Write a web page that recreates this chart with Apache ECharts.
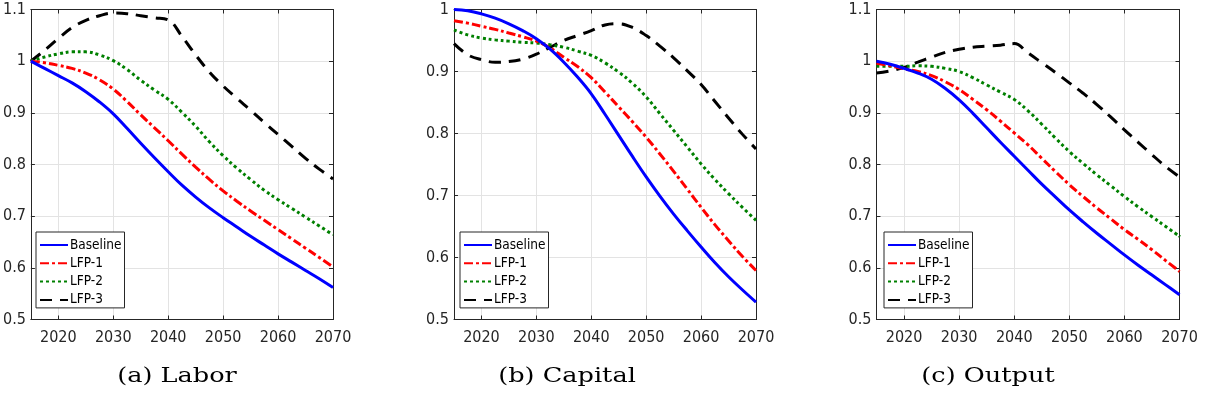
<!DOCTYPE html>
<html>
<head>
<meta charset="utf-8">
<script src="https://cdn.jsdelivr.net/npm/echarts@6/dist/echarts.min.js"></script>
<style>
  html, body { margin: 0; padding: 0; background: #ffffff; }
  #chart { width: 1206px; height: 403px; }
</style>
</head>
<body>
<div id="chart"></div>
<script>
// Projection years (2.5-year steps) and tick labels
const years = [2015, 2017.5, 2020, 2022.5, 2025, 2027.5, 2030, 2032.5, 2035, 2037.5, 2040,
               2042.5, 2045, 2047.5, 2050, 2052.5, 2055, 2057.5, 2060, 2062.5, 2065, 2067.5, 2070];
const xTicks = [2020, 2030, 2040, 2050, 2060, 2070];
const seriesNames = ['Baseline', 'LFP-1', 'LFP-2', 'LFP-3'];
const panelTitles = ['(a) Labor', '(b) Capital', '(c) Output'];
const panelYMax = [1.1, 1.0, 1.1];

// (a) Labor, relative to 2015
const laborBaseline = [1.000, 0.986, 0.972, 0.958, 0.941, 0.921, 0.898, 0.870, 0.841, 0.813, 0.786,
                       0.760, 0.737, 0.716, 0.697, 0.679, 0.661, 0.644, 0.627, 0.611, 0.595, 0.579, 0.562];
const laborLfp1 = [1.000, 0.997, 0.992, 0.986, 0.977, 0.964, 0.946, 0.922, 0.896, 0.871, 0.846,
                   0.820, 0.795, 0.771, 0.749, 0.729, 0.710, 0.692, 0.674, 0.656, 0.638, 0.620, 0.602];
const laborLfp2 = [1.000, 1.008, 1.014, 1.018, 1.018, 1.012, 1.001, 0.984, 0.963, 0.944, 0.926,
                   0.901, 0.874, 0.844, 0.817, 0.793, 0.771, 0.750, 0.732, 0.715, 0.698, 0.681, 0.664];
const laborLfp3 = [1.000, 1.021, 1.044, 1.065, 1.079, 1.088, 1.093, 1.092, 1.088, 1.084, 1.080,
                   1.048, 1.012, 0.979, 0.952, 0.928, 0.905, 0.881, 0.858, 0.835, 0.812, 0.791, 0.772];

// (b) Capital, relative to 2015 baseline
const capitalBaseline = [1.000, 0.998, 0.993, 0.986, 0.977, 0.966, 0.953, 0.936, 0.915, 0.891, 0.864,
                         0.831, 0.797, 0.763, 0.730, 0.699, 0.670, 0.643, 0.617, 0.592, 0.569, 0.548, 0.528];
const capitalLfp1 = [0.982, 0.978, 0.973, 0.968, 0.962, 0.956, 0.949, 0.938, 0.923, 0.908, 0.890,
                     0.867, 0.843, 0.819, 0.794, 0.767, 0.739, 0.710, 0.681, 0.653, 0.627, 0.602, 0.579];
const capitalLfp2 = [0.967, 0.959, 0.954, 0.951, 0.949, 0.947, 0.946, 0.943, 0.939, 0.933, 0.926,
                     0.914, 0.899, 0.881, 0.859, 0.832, 0.805, 0.778, 0.751, 0.726, 0.703, 0.681, 0.660];
const capitalLfp3 = [0.945, 0.927, 0.919, 0.915, 0.916, 0.920, 0.928, 0.939, 0.950, 0.958, 0.966,
                     0.975, 0.977, 0.971, 0.958, 0.941, 0.922, 0.901, 0.879, 0.852, 0.825, 0.799, 0.775];

// (c) Output, relative to 2015 baseline
const outputBaseline = [1.000, 0.994, 0.986, 0.977, 0.965, 0.947, 0.925, 0.899, 0.871, 0.843, 0.816,
                        0.789, 0.762, 0.737, 0.712, 0.689, 0.667, 0.646, 0.625, 0.605, 0.586, 0.567, 0.548];
const outputLfp1 = [0.996, 0.991, 0.985, 0.980, 0.972, 0.960, 0.945, 0.926, 0.906, 0.884, 0.861,
                    0.838, 0.812, 0.786, 0.761, 0.738, 0.716, 0.695, 0.674, 0.655, 0.635, 0.614, 0.593];
const outputLfp2 = [0.990, 0.990, 0.990, 0.991, 0.990, 0.986, 0.980, 0.968, 0.954, 0.940, 0.926,
                    0.904, 0.878, 0.851, 0.825, 0.802, 0.780, 0.759, 0.738, 0.718, 0.699, 0.680, 0.661];
const outputLfp3 = [0.977, 0.981, 0.988, 0.998, 1.008, 1.017, 1.023, 1.027, 1.029, 1.031, 1.034,
                    1.016, 0.997, 0.978, 0.958, 0.938, 0.916, 0.892, 0.867, 0.843, 0.819, 0.796, 0.776];

const panelData = [
  [laborBaseline, laborLfp1, laborLfp2, laborLfp3],
  [capitalBaseline, capitalLfp1, capitalLfp2, capitalLfp3],
  [outputBaseline, outputLfp1, outputLfp2, outputLfp3]
];

// Layout and styling
const gridBoxes = [
  { left: 30, top: 9.5, width: 303, height: 310 },
  { left: 454, top: 9.5, width: 302, height: 310 },
  { left: 876.5, top: 9.5, width: 303, height: 310 }
];
const legendPos = [{ left: 36, top: 232 }, { left: 460, top: 232 }, { left: 884, top: 232 }];
const captionX = [177, 567, 988];
const lineStyles = [
  { color: '#0000ff', type: 'solid' },
  { color: '#ff0000', type: [9, 3, 3, 3] },
  { color: '#008000', type: [3, 3] },
  { color: '#000000', type: [12, 8] }
];
const axisFont = "'Liberation Sans Narrow', 'DejaVu Sans Condensed', 'Roboto Condensed', sans-serif";
const axisColor = '#262626';
const gridColor = '#e3e3e3';

const grid = [], xAxis = [], yAxis = [], series = [], legend = [], graphic = [];

panelData.forEach((lines, p) => {
  grid.push(Object.assign({ containLabel: false }, gridBoxes[p]));

  const xBase = {
    type: 'value', gridIndex: p, min: 2015, max: 2070,
    axisLine: { show: true, onZero: false, lineStyle: { color: axisColor, width: 1 } },
    axisTick: { show: true, inside: true, length: 4, customValues: xTicks, lineStyle: { color: axisColor } },
    axisPointer: { show: false }
  };
  xAxis.push(Object.assign({}, xBase, {
    position: 'bottom',
    axisLabel: {
      show: true, customValues: xTicks, margin: 10, color: axisColor, fontSize: 16, fontFamily: axisFont,
      formatter: v => String(v)
    },
    splitLine: { show: true, lineStyle: { color: gridColor, width: 1 } }
  }));
  xAxis.push(Object.assign({}, xBase, {
    position: 'top',
    axisLabel: { show: false },
    splitLine: { show: false }
  }));

  const yBase = {
    type: 'value', gridIndex: p, min: 0.5, max: panelYMax[p], interval: 0.1,
    axisLine: { show: true, onZero: false, lineStyle: { color: axisColor, width: 1 } },
    axisTick: { show: true, inside: true, length: 4, lineStyle: { color: axisColor } }
  };
  yAxis.push(Object.assign({}, yBase, {
    position: 'left',
    axisLabel: {
      show: true, margin: 5, color: axisColor, fontSize: 16, fontFamily: axisFont,
      formatter: v => String(Math.round(v * 10) / 10)
    },
    splitLine: { show: true, lineStyle: { color: gridColor, width: 1 } }
  }));
  yAxis.push(Object.assign({}, yBase, {
    position: 'right',
    axisLabel: { show: false },
    splitLine: { show: false }
  }));

  lines.forEach((vals, k) => {
    series.push({
      name: seriesNames[k],
      type: 'line',
      xAxisIndex: p * 2,
      yAxisIndex: p * 2,
      data: years.map((yr, i) => [yr, vals[i]]),
      smooth: 0.4,
      symbol: 'none',
      showSymbol: false,
      silent: true,
      z: 10 - k,
      lineStyle: { color: lineStyles[k].color, type: lineStyles[k].type, width: 3, cap: 'butt' },
      itemStyle: { color: lineStyles[k].color }
    });
  });

  legend.push({
    data: seriesNames,
    orient: 'vertical',
    left: legendPos[p].left,
    top: legendPos[p].top,
    itemWidth: 28,
    itemHeight: 14,
    itemGap: 4.3,
    padding: [6, 3, 1, 3],
    backgroundColor: '#ffffff',
    borderColor: axisColor,
    borderWidth: 1,
    borderRadius: 0,
    selectedMode: false,
    itemStyle: { color: 'transparent', borderColor: 'transparent', borderWidth: 0, opacity: 0 },
    textStyle: { color: '#000000', fontSize: 13.5, lineHeight: 14, fontFamily: axisFont, padding: [0, 0, 0, -3] }
  });

  graphic.push({
    type: 'text',
    x: captionX[p],
    y: 377,
    scaleX: 1.28,
    style: {
      text: panelTitles[p],
      fill: '#000000',
      font: "20px 'DejaVu Serif', 'Liberation Serif', serif",
      align: 'center',
      verticalAlign: 'middle'
    }
  });
});

const chart = echarts.init(document.getElementById('chart'), null, { renderer: 'canvas' });
chart.setOption({
  animation: false,
  backgroundColor: '#ffffff',
  grid, xAxis, yAxis, series, legend, graphic
});
</script>
</body>
</html>
